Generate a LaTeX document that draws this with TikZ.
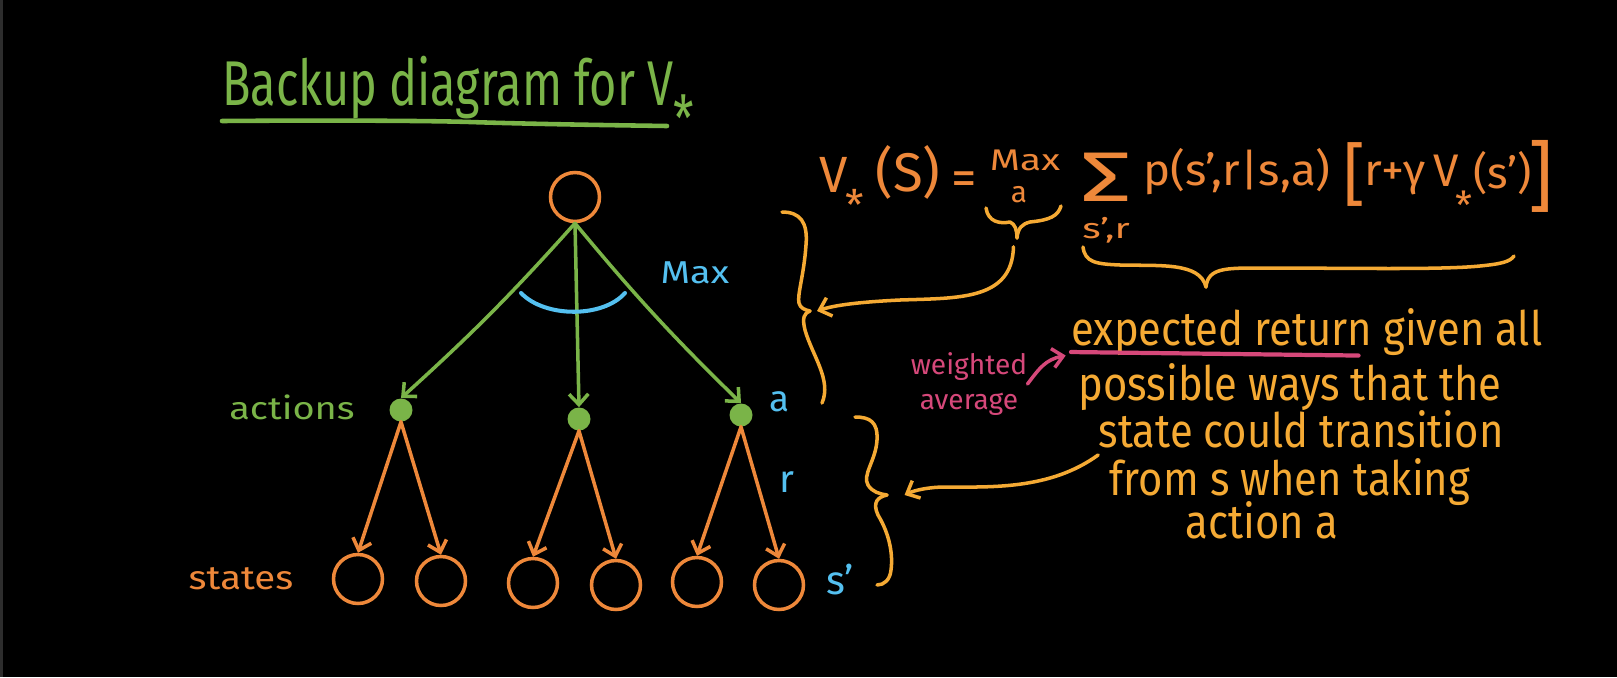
\documentclass[tikz,border=0pt]{standalone}
\usepackage{fontspec}
\usepackage{graphicx}
\setmainfont{Fira Sans}
\usetikzlibrary{arrows.meta}
\definecolor{cgreen}{RGB}{122,180,72}
\definecolor{corange}{RGB}{238,136,58}
\definecolor{cyellow}{RGB}{245,170,52}
\definecolor{cblue}{RGB}{84,192,240}
\definecolor{cpink}{RGB}{214,72,122}
\definecolor{cedge}{RGB}{45,45,45}
\newcommand{\hx}[2]{\scalebox{#1}[1]{#2}}
\newcommand{\fs}[1]{\fontsize{#1}{#1}\selectfont}
\newcommand{\lowstar}{\raisebox{-0.58em}{*}}
\begin{document}
\begin{tikzpicture}[x=0.02cm,y=-0.02cm,
  stroke/.style={line width=2pt,line cap=round,line join=round},
  arr/.style={stroke,-{Straight Barb[length=6pt,width=11pt]}},
  statenode/.style={circle,draw=corange,line width=2pt,minimum size=0.98cm,inner sep=0pt},
  dotnode/.style={circle,fill=cgreen,minimum size=0.46cm,inner sep=0pt},
  eq/.style={text=corange,inner sep=0pt,anchor=base west},
  body/.style={text=cyellow,font=\fs{27},inner sep=0pt,anchor=base},
  bluelbl/.style={text=cblue,inner sep=0pt}]
\useasboundingbox (0,0) rectangle (1617,677);
\fill[black] (0,0) rectangle (1617,677);
\fill[cedge] (0,0) rectangle (3,677);

% title
\node[text=cgreen,font=\fs{36},inner sep=0pt,anchor=base west] (title) at (222,105) {\hx{0.74}{Backup diagram for V\lowstar}};
\draw[cgreen,line width=2.6pt,line cap=round] (222,121) .. controls (350,120) and (440,121) .. (470,122) .. controls (530,124) and (600,125) .. (667,126);

% tree
\node[statenode] (root) at (575,197) {};
\node[dotnode] (d1) at (401,410) {};
\node[dotnode] (d2) at (579,419) {};
\node[dotnode] (d3) at (741,415) {};
\node[statenode] (l1) at (358,579) {};
\node[statenode] (l2) at (441,581) {};
\node[statenode] (l3) at (533,583) {};
\node[statenode] (l4) at (616,585) {};
\node[statenode] (l5) at (697,582) {};
\node[statenode] (l6) at (779,585) {};

\draw[arr,cgreen] (root.south) to[bend left=3] (d1.north);
\draw[arr,cgreen] (root.south) -- (d2.north);
\draw[arr,cgreen] (root.south) to[bend right=3] (d3.north);
\draw[arr,corange] (d1.south) -- (l1.north);
\draw[arr,corange] (d1.south) -- (l2.north);
\draw[arr,corange] (d2.south) -- (l3.north);
\draw[arr,corange] (d2.south) -- (l4.north);
\draw[arr,corange] (d3.south) -- (l5.north);
\draw[arr,corange] (d3.south) -- (l6.north);

\draw[stroke,cblue,line width=2.3pt] (521,293) .. controls (545,318) and (603,318) .. (625,293);

\node[text=cgreen,font=\fs{18},inner sep=0pt] (actions) at (292,407) {\hx{1.2}{actions}};
\node[text=corange,font=\fs{19},inner sep=0pt] (states) at (241,579) {\hx{1.15}{states}};
\node[bluelbl,font=\fs{18}] (maxlbl) at (695,273) {\hx{1.2}{Max}};
\node[bluelbl,font=\fs{21}] (alabel) at (780,402) {a};
\node[bluelbl,font=\fs{22}] (rlabel) at (787,482) {r};
\node[bluelbl,font=\fs{23}] (splabel) at (840,580) {s'};

% equation
\node[eq,font=\fs{29}] (eqV) at (819,192) {V\kern-1pt\raisebox{-16pt}{\fs{24}*}};
\node[eq,font=\fs{31}] (eqS) at (875,191) {(S)};
\node[eq,font=\fs{29}] (eqeq) at (951,195) {=};
\node[eq,font=\fs{17},anchor=base] (eqmax) at (1025,170) {\hx{1.3}{Max}};
\node[eq,font=\fs{17},anchor=base] (eqa) at (1019,202) {a};
\node[eq,anchor=north,align=center,font=\fontsize{40}{20}\selectfont] (sigma) at (1106,153) {\hx{1.45}{Σ}\\[1pt]{\fontsize{16}{20}\selectfont\hx{1.4}{s',r}}};
\node[eq,font=\fs{25}] (pp) at (1143,185) {\makebox[114pt][l]{\hx{1.04}{p(s',r|s,a)}}\raisebox{-7.4pt}{\makebox[12pt][l]{\fs{39}[}}\hx{1.05}{r+γ}};
\node[eq,font=\fs{26}] (eqV2) at (1433,186) {V};
\node[eq,font=\fs{22},anchor=base] (eqV2s) at (1464,197) {\lowstar};
\node[eq,font=\fs{25}] (sp) at (1473,188) {(s')};
\node[eq,font=\fs{44}] (rb) at (1528,203) {]};

% braces
\coordinate (bAtip) at (1017,238);
\coordinate (b1tip) at (810,311);
\coordinate (b2tip) at (887,495);
\draw[stroke,cyellow] (986,208) .. controls (988,222) and (1000,224) .. (1010,222) .. controls (1015,224) and (1017,230) .. (bAtip);
\draw[stroke,cyellow] (bAtip) .. controls (1018,228) and (1022,224) .. (1030,222) .. controls (1050,220) and (1058,216) .. (1061,206);

\draw[stroke,cyellow] (1083,247) .. controls (1085,262) and (1095,264) .. (1120,265) .. controls (1160,266) and (1200,262) .. (1206,287);
\draw[stroke,cyellow] (1206,287) .. controls (1208,268) and (1225,268) .. (1260,268) .. controls (1350,268) and (1440,270) .. (1480,266) .. controls (1500,264) and (1510,262) .. (1514,256);

\draw[stroke,cyellow] (782,212) .. controls (800,212) and (808,222) .. (806,245) .. controls (804,275) and (797,295) .. (799,303) .. controls (800,308) and (805,310) .. (b1tip);
\draw[stroke,cyellow] (b1tip) .. controls (804,313) and (802,318) .. (805,330) .. controls (812,355) and (832,380) .. (822,403);

\draw[stroke,cyellow] (855,417) .. controls (870,417) and (878,422) .. (877,440) .. controls (876,460) and (862,475) .. (868,485) .. controls (872,492) and (880,494) .. (b2tip);
\draw[stroke,cyellow] (b2tip) .. controls (878,497) and (872,502) .. (878,515) .. controls (890,535) and (893,555) .. (891,570) .. controls (890,580) and (884,585) .. (877,585);

% body text
\node[body,anchor=base west] (exp) at (1071,345) {\hx{0.88}{expected return}};
\node[body,anchor=base west] (given) at ([xshift=6pt]exp.base east) {\hx{0.88}{given all}};
\node[body] (line2) at (1290,400) {\hx{0.88}{possible ways that the}};
\node[body] (line3) at (1301,447) {\hx{0.88}{state could transition}};
\node[body] (line4) at (1290,495) {\hx{0.88}{from s when taking}};
\node[body] (line5) at (1262,538) {\hx{0.88}{action a}};
\draw[stroke,cpink,line width=2.4pt] ([yshift=-4pt]exp.base west) -- ([yshift=-6pt,xshift=-8pt]exp.base east);

\node[text=cpink,font=\fontsize{16}{20}\selectfont,align=center,inner sep=0pt] (wa) at (969,384) {weighted\\average};
\draw[arr,cpink] (wa.east) .. controls +(12,-16) and +(-20,4) .. ([xshift=-3pt,yshift=-6pt]exp.base west);

% arrows from braces
\draw[arr,cyellow] ([yshift=-5pt,xshift=-2pt]bAtip) .. controls (1012,300) and (960,298) .. (900,300) .. controls (860,302) and (835,305) .. ([xshift=4pt]b1tip);
\draw[arr,cyellow] ([yshift=-4pt]line3.south west) .. controls (1050,490) and (990,487) .. (945,487) .. controls (930,487) and (915,490) .. ([xshift=10pt]b2tip);
\end{tikzpicture}
\end{document}
